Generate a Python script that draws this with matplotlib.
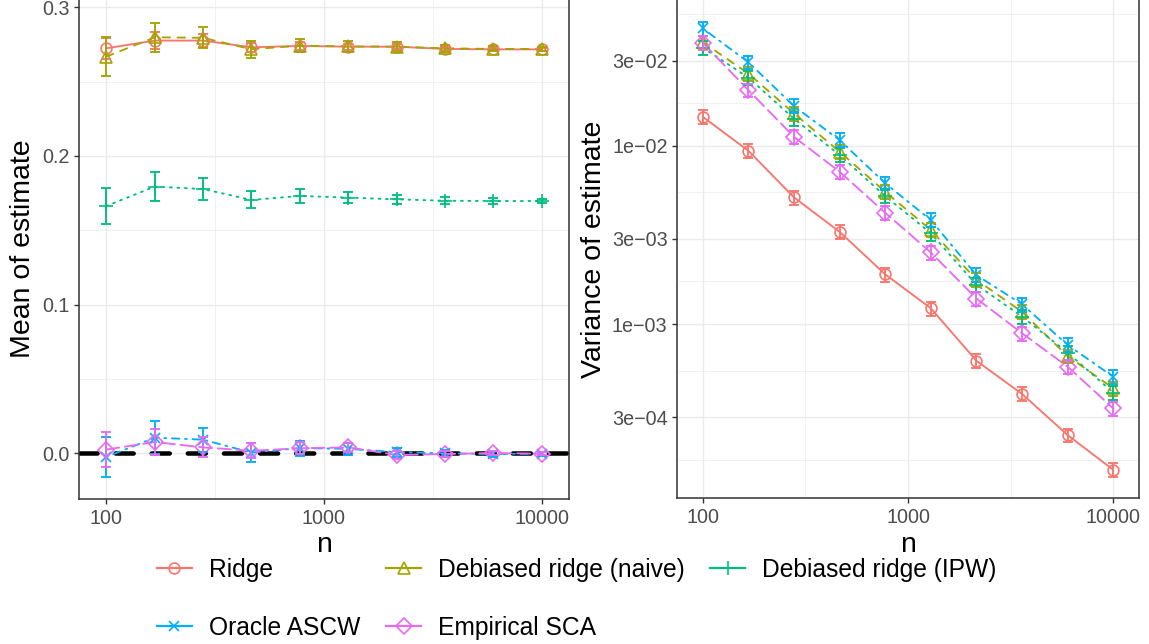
import numpy as np
import matplotlib
matplotlib.use("Agg")
import matplotlib.pyplot as plt
from matplotlib.lines import Line2D
from matplotlib.ticker import NullFormatter

plt.rcParams["font.family"] = ["Liberation Sans", "DejaVu Sans"]

# sample sizes
n = [100, 167, 278, 464, 774, 1292, 2154, 3594, 5995, 10000]

methods = ["Ridge", "Debiased ridge (naive)", "Debiased ridge (IPW)",
           "Oracle ASCW", "Empirical SCA"]

# mean of estimate (left panel) and error bar half widths
mean_ridge = [0.2724, 0.2776, 0.2776, 0.2731, 0.2740, 0.2735, 0.2735, 0.2720, 0.2717, 0.2717]
mean_naive = [0.2668, 0.2798, 0.2795, 0.2718, 0.2742, 0.2737, 0.2735, 0.2724, 0.2720, 0.2720]
mean_ipw = [0.1663, 0.1794, 0.1778, 0.1704, 0.1731, 0.1720, 0.1708, 0.1699, 0.1697, 0.1697]
mean_ascw = [-0.0025, 0.0105, 0.0092, 0.0005, 0.0035, 0.0030, 0.0008, 0.0000, -0.0005, -0.0002]
mean_sca = [0.0025, 0.0076, 0.0040, 0.0017, 0.0034, 0.0040, -0.0011, -0.0005, 0.0002, -0.0003]

mean_ridge_err = [0.0072, 0.0055, 0.0042, 0.0032, 0.0025, 0.0020, 0.0016, 0.0012, 0.0010, 0.0008]
mean_naive_err = [0.0130, 0.0096, 0.0071, 0.0057, 0.0045, 0.0036, 0.0029, 0.0022, 0.0017, 0.0013]
mean_ipw_err = [0.0123, 0.0096, 0.0073, 0.0057, 0.0045, 0.0037, 0.0030, 0.0023, 0.0018, 0.0014]
mean_ascw_err = [0.0133, 0.0110, 0.0080, 0.0066, 0.0050, 0.0040, 0.0031, 0.0024, 0.0019, 0.0014]
mean_sca_err = [0.0120, 0.0087, 0.0068, 0.0050, 0.0040, 0.0030, 0.0024, 0.0019, 0.0015, 0.0011]

# variance of estimate (right panel) and error bar half widths
var_ridge = [0.01454, 0.00937, 0.00514, 0.00329, 0.00190, 0.001225, 0.000622, 0.000405, 0.000238, 0.000152]
var_naive = [0.0381, 0.0254, 0.0152, 0.00926, 0.00552, 0.00337, 0.00177, 0.00117, 0.00066, 0.000436]
var_ipw = [0.0355, 0.0241, 0.0142, 0.00887, 0.00522, 0.00323, 0.00166, 0.00110, 0.00069, 0.000412]
var_ascw = [0.0455, 0.0294, 0.0167, 0.01076, 0.00616, 0.00383, 0.00188, 0.00129, 0.000762, 0.000506]
var_sca = [0.0378, 0.0205, 0.01123, 0.00715, 0.00421, 0.00252, 0.00139, 0.000887, 0.000576, 0.000336]

var_ridge_err = [0.0013, 0.00085, 0.00046, 0.00030, 0.00017, 0.00011, 0.000056, 0.000037, 0.000021, 0.0000137]
var_naive_err = [0.0034, 0.0023, 0.00137, 0.00083, 0.0005, 0.0003, 0.00016, 0.000105, 0.000059, 0.000039]
var_ipw_err = [0.0032, 0.0022, 0.00128, 0.0008, 0.00047, 0.00029, 0.00015, 0.0001, 0.000062, 0.000037]
var_ascw_err = [0.0041, 0.0026, 0.0015, 0.00097, 0.00055, 0.00034, 0.00017, 0.000116, 0.0000686, 0.0000455]
var_sca_err = [0.0034, 0.0018, 0.00101, 0.00064, 0.00038, 0.00023, 0.000125, 0.00008, 0.000052, 0.00003]

mean_vals = [mean_ridge, mean_naive, mean_ipw, mean_ascw, mean_sca]
mean_errs = [mean_ridge_err, mean_naive_err, mean_ipw_err, mean_ascw_err, mean_sca_err]
var_vals = [var_ridge, var_naive, var_ipw, var_ascw, var_sca]
var_errs = [var_ridge_err, var_naive_err, var_ipw_err, var_ascw_err, var_sca_err]

# styles
colors = ["#F8766D", "#A3A500", "#00BF7D", "#00B0F6", "#E76BF3"]
markers = ["o", "^", "+", "x", "D"]
msizes = [7.8, 8.3, 9.5, 7.8, 7.8]
dashes = [None, (4, 4), (1, 3), (1, 3, 4, 3), (7, 3)]
LW = 1.35
GRID = "#EBEBEB"
DARK = "#333333"

W, H = 1149, 644
fig = plt.figure(figsize=(W / 100, H / 100), dpi=100)


def px_axes(l, r, t, b):
    return fig.add_axes([l / W, 1 - b / H, (r - l) / W, (b - t) / H])


def style(ax):
    ax.set_facecolor("white")
    ax.set_axisbelow(True)
    for s in ax.spines.values():
        s.set_color(DARK)
        s.set_linewidth(1.1)
    ax.tick_params(which="major", length=3.8, width=1.0, color=DARK,
                   labelcolor="#4D4D4D", labelsize=14.2, pad=3)
    ax.tick_params(which="minor", length=0)
    ax.grid(which="major", color=GRID, lw=1.0)
    ax.grid(which="minor", color=GRID, lw=0.5)


def draw(ax, vals, errs, capsize):
    for i in range(5):
        line, = ax.plot(n, vals[i], color=colors[i], lw=LW, zorder=3,
                        solid_capstyle="round", dash_capstyle="round")
        if dashes[i] is not None:
            line.set_dashes(dashes[i])
    for i in range(5):
        ax.plot(n, vals[i], ls="none", marker=markers[i], ms=msizes[i],
                mfc="none", mec=colors[i], mew=1.2, zorder=4)
    for i in range(5):
        ax.errorbar(n, vals[i], yerr=errs[i], fmt="none", ecolor=colors[i],
                    elinewidth=LW, capsize=capsize, capthick=LW, zorder=5)


xticks = [100, 1000, 10000]
xminor = [10 ** 2.5, 10 ** 3.5]
xlim = (10 ** 1.875, 10 ** 4.125)

# left panel: mean
ax1 = px_axes(79, 569, -1, 499.3)
style(ax1)
ax1.set_xscale("log")
ax1.axhline(0, color="black", lw=3.25, dashes=(4, 4), dash_capstyle="round", zorder=2)
draw(ax1, mean_vals, mean_errs, 3.9)
ax1.set_xlim(*xlim)
ax1.set_ylim(-0.03094, 0.30558)
ax1.set_xticks(xticks)
ax1.set_xticklabels(["100", "1000", "10000"])
ax1.set_xticks(xminor, minor=True)
ax1.xaxis.set_minor_formatter(NullFormatter())
ax1.set_yticks([0.0, 0.1, 0.2, 0.3])
ax1.set_yticklabels(["0.0", "0.1", "0.2", "0.3"])
ax1.set_yticks([0.05, 0.15, 0.25], minor=True)

# right panel: variance
ax2 = px_axes(677, 1139, -1, 498.3)
style(ax2)
ax2.set_xscale("log")
ax2.set_yscale("log")
draw(ax2, var_vals, var_errs, 3.7)
ax2.set_xlim(*xlim)
ax2.set_xticks(xticks)
ax2.set_xticklabels(["100", "1000", "10000"])
ax2.set_xticks(xminor, minor=True)
ax2.xaxis.set_minor_formatter(NullFormatter())
ybreaks = [1e-4, 3e-4, 1e-3, 3e-3, 1e-2, 3e-2, 1e-1]
ax2.set_yticks(ybreaks[1:-1])
ax2.set_yticklabels(["3e\u221204", "1e\u221203", "3e\u221203", "1e\u221202", "3e\u221202"])
ax2.set_yticks([np.sqrt(a * b) for a, b in zip(ybreaks[:-1], ybreaks[1:])], minor=True)
ax2.yaxis.set_minor_formatter(NullFormatter())
ax2.set_ylim(1.053e-4, 0.06651)

# axis titles
TITLE = 20.5
fig.text(324 / W, 1 - 545 / H, "n", ha="center", va="center", fontsize=TITLE)
fig.text(908 / W, 1 - 545 / H, "n", ha="center", va="center", fontsize=TITLE)
fig.text(23 / W, 1 - 249 / H, "Mean of estimate", rotation=90,
         ha="center", va="center", fontsize=TITLE)
fig.text(594 / W, 1 - 249 / H, "Variance of estimate", rotation=90,
         ha="center", va="center", fontsize=TITLE)

# legend (rows: 3 then 2)
handles = [Line2D([], [], color=colors[i], lw=1.6, marker=markers[i], ms=msizes[i],
                  mfc="none", mec=colors[i], mew=1.2) for i in range(5)]
order = [0, 3, 1, 4, 2]
fig.legend([handles[i] for i in order], [methods[i] for i in order],
           loc="upper left", bbox_to_anchor=(157 / W, 1 - 558 / H),
           ncol=3, frameon=False, fontsize=17.7, handlelength=1.42,
           handletextpad=0.69, columnspacing=1.05, labelspacing=1.38,
           borderpad=0, borderaxespad=0)

fig.savefig("out.png", dpi=100)
